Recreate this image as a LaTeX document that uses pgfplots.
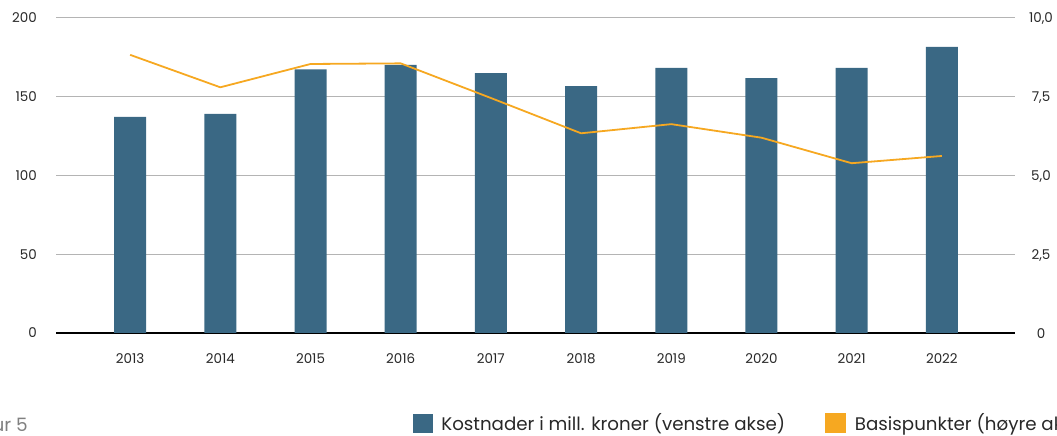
\documentclass[border=0pt]{standalone}
\usepackage{fontspec}
\setmainfont{Poppins}
\usepackage{pgfplots}
\pgfplotsset{compat=1.18}

\definecolor{barblue}{RGB}{58,104,132}
\definecolor{lineorange}{RGB}{246,168,33}
\definecolor{gridgray}{RGB}{180,180,180}
\definecolor{labelgray}{RGB}{40,40,40}

\begin{document}
\begin{tikzpicture}
  \useasboundingbox (0bp,0bp) rectangle (1057bp,436bp);
  \pgfplotsset{
    every axis/.append style={
      scale only axis,
      width=959bp, height=315bp,
      at={(56bp,103bp)}, anchor=south west,
      xmin=-0.822, xmax=9.811,
      major tick length=0pt,
      /pgf/number format/assume math mode=true,
      ticklabel style={font=\fontsize{13.5}{16}\selectfont, text=labelgray, inner sep=0pt},
    }
  }
  % left axis: costs (bars)
  \begin{axis}[
      ymin=0, ymax=200,
      ytick={0,50,100,150,200},
      xtick={0,1,2,3,4,5,6,7,8,9},
      xticklabels={2013,2014,2015,2016,2017,2018,2019,2020,2021,2022},
      ymajorgrids,
      grid style={gridgray, line width=1bp},
      axis x line*=bottom, axis y line*=left,
      x axis line style={black, line width=2.5bp, -},
      y axis line style={draw=none},
      yticklabel style={anchor=base east, yshift=-5bp, xshift=-19bp},
      xticklabel style={anchor=base, yshift=-31bp},
    ]
    \addplot[ybar, bar width=32bp, fill=barblue, draw=none] coordinates {
      (0,137.2) (1,139.2) (2,167.3) (3,170.2) (4,165.0)
      (5,156.8) (6,168.3) (7,161.9) (8,168.3) (9,181.6)
    };
  \end{axis}
  % right axis: basis points (line)
  \begin{axis}[
      ymin=0, ymax=10,
      ytick={0,2.5,5,7.5,10},
      yticklabels={0,{2,5},{5,0},{7,5},{10,0}},
      axis x line=none, axis y line*=right,
      y axis line style={draw=none},
      yticklabel style={anchor=base, yshift=-5bp, xshift=26bp},
      legend columns=2,
      legend cell align=left,
      legend style={
        at={(0.372,-0.286)}, anchor=west,
        draw=none, fill=none, inner sep=0pt,
        font=\fontsize{18.3}{22}\selectfont, text=labelgray,
        /tikz/every even column/.append style={column sep=38bp},
      },
    ]
    \addlegendimage{legend image code/.code={
        \fill[barblue] (0bp,-9bp) rectangle (19bp,9bp);
        \path (26bp,0bp);}}
    \addlegendentry{Kostnader i mill. kroner (venstre akse)}
    \addplot[lineorange, line width=1.8bp,
      legend image code/.code={
        \fill[lineorange] (0bp,-9bp) rectangle (19bp,9bp);
        \path (26bp,0bp);}] coordinates {
      (0,8.83) (1,7.80) (2,8.54) (3,8.56) (4,7.46)
      (5,6.34) (6,6.63) (7,6.20) (8,5.39) (9,5.62)
    };
    \addlegendentry{Basispunkter (høyre akse)}
  \end{axis}
  \node[anchor=base east, inner sep=0pt, font=\fontsize{18.5}{22}\selectfont, text=gray] at (28bp,5bp) {Figur 5};
\end{tikzpicture}
\end{document}
